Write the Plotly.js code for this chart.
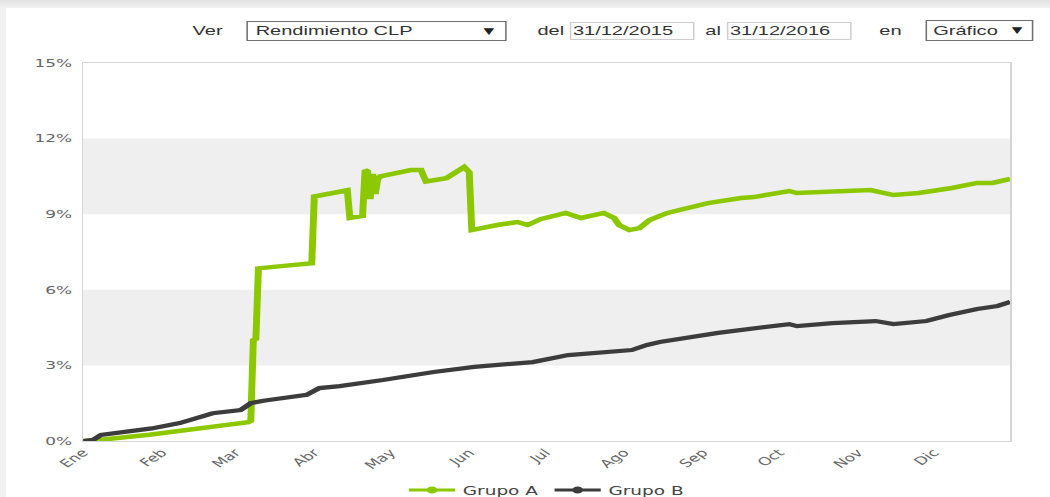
<!DOCTYPE html>
<html>
<head>
<meta charset="utf-8">
<script src="https://cdn.plot.ly/plotly-3.0.1.min.js"></script>
<style>
html,body{margin:0;padding:0;background:#fff;overflow:hidden;width:1050px;height:497px;}
#stage{position:absolute;left:0;top:0;width:682px;height:497px;transform:scaleX(1.54);transform-origin:0 0;background:#fff;}
#chart{position:absolute;left:0;top:0;width:682px;height:497px;}
#topbar{position:absolute;left:0;top:0;width:682px;height:8px;background:linear-gradient(#e2e2e2,#f2f2f2);}
#leftbar{position:absolute;left:0;top:8px;width:4px;height:489px;background:#f1f1f1;}
.lbl{position:absolute;font-family:Arial,"Liberation Sans",sans-serif;font-size:13px;color:#333;line-height:16px;white-space:nowrap;}
.sel{position:absolute;box-sizing:border-box;border:1px solid #707070;background:#fff;}
.inp{position:absolute;box-sizing:border-box;border:1px solid #cfcfcf;background:#fff;}
.arrow{position:absolute;font-family:"DejaVu Sans",sans-serif;font-size:9px;color:#222;line-height:12px;}
</style>
</head>
<body>
<div id="stage">
  <div id="chart"></div>
  <div id="topbar"></div>
  <div id="leftbar"></div>

  <div class="lbl" style="left:125px;top:23px;">Ver</div>
  <div class="sel" style="left:160px;top:21px;width:169px;height:20px;"></div>
  <div class="lbl" style="left:166px;top:23px;">Rendimiento CLP</div>
  <div class="arrow" style="left:314px;top:25px;">&#9660;</div>

  <div class="lbl" style="left:349px;top:23px;">del</div>
  <div class="inp" style="left:370px;top:22px;width:81px;height:18px;"></div>
  <div class="lbl" style="left:372px;top:23px;">31/12/2015</div>

  <div class="lbl" style="left:458px;top:23px;">al</div>
  <div class="inp" style="left:472px;top:22px;width:81px;height:18px;"></div>
  <div class="lbl" style="left:474px;top:23px;">31/12/2016</div>

  <div class="lbl" style="left:571px;top:23px;">en</div>
  <div class="sel" style="left:601px;top:20px;width:70px;height:21px;"></div>
  <div class="lbl" style="left:606px;top:23px;">Gráfico</div>
  <div class="arrow" style="left:657px;top:24px;">&#9660;</div>
</div>

<script>
// ---- Data ----
const grupoADates = [
  '2016-01-01','2016-01-08','2016-01-27','2016-02-16','2016-03-06','2016-03-07','2016-03-08','2016-03-09',
  '2016-03-10','2016-03-20','2016-03-31','2016-04-01','2016-04-07','2016-04-14','2016-04-15','2016-04-20',
  '2016-04-21','2016-04-22','2016-04-23','2016-04-24','2016-04-25','2016-04-26','2016-04-27','2016-05-09',
  '2016-05-13','2016-05-15','2016-05-23','2016-05-26','2016-05-30','2016-06-01','2016-06-02','2016-06-12',
  '2016-06-20','2016-06-24','2016-06-29','2016-07-09','2016-07-15','2016-07-24','2016-07-28','2016-07-30',
  '2016-08-03','2016-08-07','2016-08-11','2016-08-18','2016-08-27','2016-09-03','2016-09-16','2016-09-21',
  '2016-10-05','2016-10-08','2016-11-06','2016-11-15','2016-11-25','2016-12-08','2016-12-18','2016-12-24',
  '2016-12-31'
];
const grupoAValues = [
  0, 0.05, 0.25, 0.5, 0.75, 0.8, 4.0, 4.05,
  6.85, 6.95, 7.05, 9.7, 9.8, 9.95, 8.85, 8.93,
  10.75, 10.7, 9.6, 10.6, 9.8, 10.4, 10.5, 10.75,
  10.75, 10.3, 10.43, 10.63, 10.87, 10.67, 8.37, 8.57,
  8.69, 8.57, 8.8, 9.05, 8.85, 9.05, 8.85, 8.57,
  8.37, 8.45, 8.77, 9.05, 9.25, 9.44, 9.64, 9.68,
  9.92, 9.84, 9.96, 9.76, 9.84, 10.04, 10.24, 10.24,
  10.4
];
const grupoBDates = [
  '2016-01-01','2016-01-05','2016-01-08','2016-01-19','2016-01-28','2016-02-08','2016-02-21','2016-03-03',
  '2016-03-07','2016-03-12','2016-03-29','2016-04-03','2016-04-11','2016-04-28','2016-05-18','2016-06-03',
  '2016-06-26','2016-07-10','2016-07-29','2016-08-04','2016-08-10','2016-08-15','2016-09-07','2016-10-05',
  '2016-10-08','2016-10-22','2016-11-08','2016-11-15','2016-11-28','2016-12-07','2016-12-18','2016-12-26',
  '2016-12-31'
];
const grupoBValues = [
  0, 0.05, 0.24, 0.36, 0.5, 0.71, 1.1, 1.23,
  1.5, 1.6, 1.83, 2.1, 2.18, 2.42, 2.74, 2.94,
  3.13, 3.41, 3.53, 3.61, 3.81, 3.93, 4.29, 4.64,
  4.56, 4.68, 4.76, 4.64, 4.76, 5.0, 5.24, 5.36,
  5.52
];
const monthTicks = ['2016-01-01','2016-02-01','2016-03-01','2016-04-01','2016-05-01','2016-06-01',
                    '2016-07-01','2016-08-01','2016-09-01','2016-10-01','2016-11-01','2016-12-01'];
const monthLabels = ['Ene','Feb','Mar','Abr','May','Jun','Jul','Ago','Sep','Oct','Nov','Dic'];
const yTicks = [0, 3, 6, 9, 12, 15];
const bandRanges = [[3, 6], [9, 12]];
const seriesNames = ['Grupo A', 'Grupo B'];
const seriesColors = ['#8cc800', '#3c3c3c'];

// ---- Traces ----
const traces = [
  {x: grupoADates, y: grupoAValues, mode: 'lines', showlegend: false,
   line: {color: seriesColors[0], width: 4.5}},
  {x: grupoBDates, y: grupoBValues, mode: 'lines', showlegend: false,
   line: {color: seriesColors[1], width: 4.2}},
  {x: [null], y: [null], mode: 'lines+markers', name: seriesNames[0],
   line: {color: seriesColors[0], width: 3}, marker: {color: seriesColors[0], size: 7}},
  {x: [null], y: [null], mode: 'lines+markers', name: seriesNames[1],
   line: {color: seriesColors[1], width: 3}, marker: {color: seriesColors[1], size: 7}}
];

const shapes = bandRanges.map(r => ({
  type: 'rect', xref: 'paper', x0: 0, x1: 1, yref: 'y', y0: r[0], y1: r[1],
  fillcolor: '#efefef', line: {width: 0}, layer: 'below'
}));

const layout = {
  width: 682, height: 497,
  margin: {l: 54, r: 26, t: 63, b: 56},
  paper_bgcolor: 'rgba(0,0,0,0)',
  plot_bgcolor: '#ffffff',
  hovermode: false,
  showlegend: true,
  shapes: shapes,
  font: {family: '"DejaVu Sans", Verdana, sans-serif', size: 11, color: '#666'},
  xaxis: {
    type: 'date',
    range: ['2016-01-01', '2016-12-31'],
    tickmode: 'array', tickvals: monthTicks, ticktext: monthLabels,
    tickangle: -45,
    tickfont: {family: '"DejaVu Sans", Verdana, sans-serif', size: 11, color: '#666'},
    showgrid: false, zeroline: false,
    showline: true, mirror: true, linecolor: '#d4d4d4', linewidth: 1,
    ticks: '', automargin: false, fixedrange: true
  },
  yaxis: {
    range: [0, 15],
    tickmode: 'array', tickvals: yTicks, ticktext: yTicks.map(v => v + '%'),
    tickfont: {family: '"DejaVu Sans", Verdana, sans-serif', size: 11, color: '#666'},
    showgrid: false, zeroline: false,
    showline: true, mirror: true, linecolor: '#d4d4d4', linewidth: 1,
    ticks: '', ticklabelstandoff: 4, automargin: false, fixedrange: true
  },
  legend: {
    orientation: 'h', x: 0.5, xanchor: 'center',
    yref: 'container', y: 0.014, yanchor: 'middle',
    font: {family: '"DejaVu Sans", Verdana, sans-serif', size: 12, color: '#444'},
    bgcolor: 'rgba(0,0,0,0)'
  }
};

Plotly.newPlot('chart', traces, layout, {displayModeBar: false, staticPlot: true});
</script>
</body>
</html>
